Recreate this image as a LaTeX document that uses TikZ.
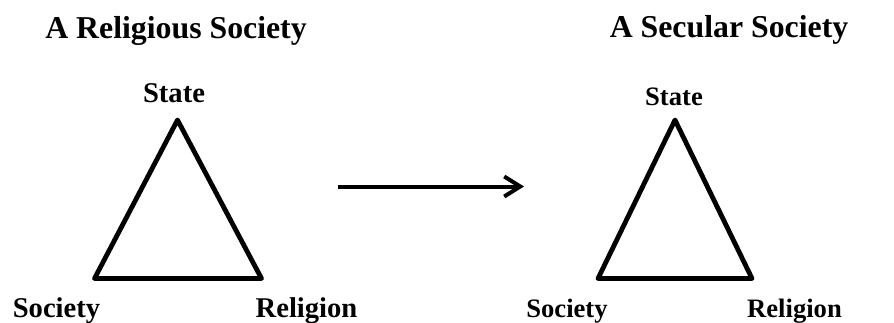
\documentclass[tikz,border=0pt]{standalone}
\usepackage{fontspec}
\setmainfont{Liberation Serif}
\usetikzlibrary{arrows.meta}
\begin{document}
\begin{tikzpicture}[x=1pt,y=1pt,
  title/.style={anchor=base,inner sep=0pt,font=\fontsize{31.8}{34}\selectfont\bfseries},
  lblL/.style={anchor=base,inner sep=0pt,font=\fontsize{28.6}{30}\selectfont\bfseries},
  lblR/.style={anchor=base,inner sep=0pt,font=\fontsize{26.6}{28}\selectfont\bfseries},
  tri/.style={line width=4.8pt,line join=round,line cap=round},
  conn/.style={line width=4pt,-{Straight Barb[length=16pt,width=20pt,line width=4pt]}}]
\useasboundingbox (0,0) rectangle (894,322);
% titles
\node[title] (t1) at (176,283) {A Religious Society};
\node[title] (t2) at (729,284) {A Secular Society};
% left triangle
\coordinate (lA) at (177.5,202);
\coordinate (lB) at (94.5,43.5);
\coordinate (lC) at (261.5,43.5);
\draw[tri] (lA) -- (lB) -- (lC) -- cycle;
\node[lblL] (ls) at (174,219) {State};
\node[lblL] (lso) at (56.5,5) {Society};
\node[lblL] (lre) at (306.5,5) {Religion};
% arrow
\coordinate (a1) at (338,135.5);
\coordinate (a2) at (524,135.5);
\draw[conn] (a1) -- (a2);
% right triangle
\coordinate (rA) at (675,202);
\coordinate (rB) at (598,43.5);
\coordinate (rC) at (752,43.5);
\draw[tri] (rA) -- (rB) -- (rC) -- cycle;
\node[lblR] (rs) at (674,217) {State};
\node[lblR] (rso) at (567,4.5) {Society};
\node[lblR] (rre) at (794.5,4.5) {Religion};
\end{tikzpicture}
\end{document}
